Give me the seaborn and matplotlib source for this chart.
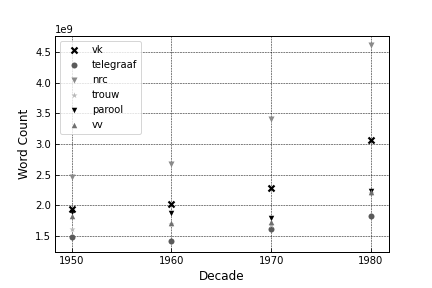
import matplotlib
matplotlib.use("Agg")
import matplotlib.pyplot as plt
import seaborn as sns
import pandas as pd

decades = [1950, 1960, 1970, 1980]
vk = [1.94e9, 2.03e9, 2.29e9, 3.06e9]
telegraaf = [1.49e9, 1.42e9, 1.61e9, 1.83e9]
nrc = [2.47e9, 2.68e9, 3.40e9, 4.61e9]
trouw = [1.61e9, 1.69e9, 1.68e9, 2.20e9]
parool = [1.90e9, 1.88e9, 1.79e9, 2.23e9]
vv = [1.83e9, 1.72e9, 1.73e9, 2.21e9]

series = {"vk": vk, "telegraaf": telegraaf, "nrc": nrc, "trouw": trouw, "parool": parool, "vv": vv}
markers = {"vk": "x", "telegraaf": "o", "nrc": "v", "trouw": "*", "parool": "v", "vv": "^"}
colors = {"vk": "#000000", "telegraaf": "#5a5a5a", "nrc": "#8a8a8a", "trouw": "#b8b8b8", "parool": "#000000", "vv": "#707070"}
sizes = {"vk": 36, "telegraaf": 36, "nrc": 36, "trouw": 40, "parool": 30, "vv": 30}

rows = []
for name, vals in series.items():
    for d, v in zip(decades, vals):
        rows.append({"Decade": d, "Word Count": v, "paper": name})
df = pd.DataFrame(rows)

sns.set_style("white")
plt.rcParams["text.color"] = "black"
plt.rcParams["axes.labelcolor"] = "black"
plt.rcParams["xtick.color"] = "black"
plt.rcParams["ytick.color"] = "black"
fig, ax = plt.subplots(figsize=(6, 4), dpi=72)
for name in series:
    sub = df[df["paper"] == name]
    sns.scatterplot(data=sub, x="Decade", y="Word Count", ax=ax, marker=markers[name],
                    color=colors[name], s=sizes[name], label=name,
                    linewidth=2.2 if name == "vk" else 0, zorder=3)

ax.set_xticks(decades)
ax.set_yticks([1.5e9, 2.0e9, 2.5e9, 3.0e9, 3.5e9, 4.0e9, 4.5e9])
ax.set_xlim(1948.3, 1981.8)
ax.set_ylim(1.24e9, 4.76e9)
ax.grid(True, color="black", linestyle="--", linewidth=0.5)
ax.tick_params(direction="in", length=4, color="black", labelcolor="black", labelsize=10, left=True, bottom=True)
ax.yaxis.get_offset_text().set_fontsize(10)
for s in ax.spines.values():
    s.set_color("black")
    s.set_linewidth(1)
ax.set_xlabel("Decade", fontsize=12)
ax.set_ylabel("Word Count", fontsize=12)
ax.legend(loc="upper left", fontsize=10, frameon=True)
fig.subplots_adjust(left=0.127, right=0.9, top=0.875, bottom=0.125)
fig.savefig("out.png", dpi=72)
